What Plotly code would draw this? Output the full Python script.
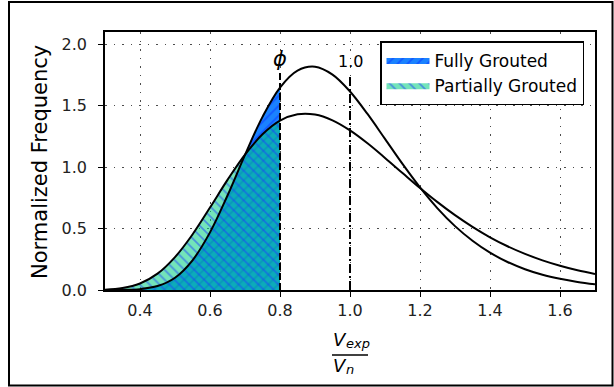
import plotly.graph_objects as go

# Data
x_vals = [0.30, 0.35, 0.40, 0.45, 0.50, 0.55, 0.60, 0.65, 0.70, 0.75, 0.80, 0.85, 0.90, 0.95,
          1.00, 1.05, 1.10, 1.15, 1.20, 1.25, 1.30, 1.35, 1.40, 1.45, 1.50, 1.55, 1.60, 1.65, 1.70]
fully_grouted = [0.000, 0.001, 0.007, 0.032, 0.100, 0.242, 0.469, 0.769, 1.100, 1.409, 1.648, 1.786,
                 1.817, 1.753, 1.616, 1.433, 1.230, 1.026, 0.835, 0.665, 0.520, 0.401, 0.304, 0.228,
                 0.169, 0.124, 0.091, 0.066, 0.047]
partially_grouted = [0.003, 0.016, 0.053, 0.133, 0.268, 0.452, 0.671, 0.896, 1.102, 1.267, 1.378, 1.430,
                     1.428, 1.381, 1.299, 1.194, 1.075, 0.952, 0.830, 0.715, 0.609, 0.514, 0.429, 0.356,
                     0.294, 0.241, 0.197, 0.160, 0.130]
phi = 0.8
unity = 1.0
phi_line_top = 1.77
unity_line_top = 1.74
x_ticks = [0.4, 0.6, 0.8, 1.0, 1.2, 1.4, 1.6]
x_tick_labels = ["0.4", "0.6", "0.8", "1.0", "1.2", "1.4", "1.6"]
y_ticks = [0.0, 0.5, 1.0, 1.5, 2.0]
y_tick_labels = ["0.0", "0.5", "1.0", "1.5", "2.0"]

FONT = "DejaVu Sans"
W, H = 614, 387
ML, MR, MT, MB = 105, 19, 32, 97
PW, PH = W - ML - MR, H - MT - MB

def px_x(p):
    return (p - ML) / PW

def px_y(p):
    return (H - MB - p) / PH

fx = [x for x in x_vals if x <= phi + 1e-9]
ff = fully_grouted[:len(fx)]
fp = partially_grouted[:len(fx)]

fig = go.Figure()

fig.add_trace(go.Scatter(
    x=fx, y=ff, mode="lines", line=dict(width=0, shape="spline", color="#1a3cff"),
    fill="tozeroy", fillcolor="#1a82ff",
    fillpattern=dict(shape="/", fgcolor="#0a2cff", bgcolor="#1a82ff", size=7, solidity=0.25),
    name="Fully Grouted", showlegend=True, hoverinfo="skip"))
fig.add_trace(go.Scatter(
    x=fx, y=fp, mode="lines", line=dict(width=0, shape="spline", color="#1a3cff"),
    fill="tozeroy", fillcolor="rgba(0,206,128,0.55)",
    fillpattern=dict(shape="\\", fgcolor="#1a3cff", bgcolor="rgba(0,206,128,0.55)", size=7, solidity=0.25),
    name="Partially Grouted", showlegend=True, hoverinfo="skip"))

fig.add_trace(go.Scatter(x=x_vals, y=fully_grouted, mode="lines",
                         line=dict(color="black", width=2, shape="spline"), showlegend=False))
fig.add_trace(go.Scatter(x=x_vals, y=partially_grouted, mode="lines",
                         line=dict(color="black", width=2, shape="spline"), showlegend=False))

fig.add_trace(go.Scatter(x=[phi, phi], y=[0, phi_line_top], mode="lines",
                         line=dict(color="black", width=2, dash="7px,3px"), showlegend=False))
fig.add_trace(go.Scatter(x=[unity, unity], y=[0, unity_line_top], mode="lines",
                         line=dict(color="black", width=2, dash="9px,3px,2px,3px"), showlegend=False))

def t(x, y, text, size, xanchor="center", **kw):
    d = dict(x=px_x(x), y=px_y(y), xref="paper", yref="paper", text=text, showarrow=False,
             xanchor=xanchor, yanchor="middle",
             font=dict(family=FONT, size=size, color="black"))
    d.update(kw)
    return d

ann = [
    dict(x=phi, y=1.88, xref="x", yref="y", text="<i>ϕ</i>", showarrow=False,
         xanchor="center", yanchor="middle", font=dict(family=FONT, size=21, color="black")),
    dict(x=unity, y=1.86, xref="x", yref="y", text="1.0", showarrow=False,
         xanchor="center", yanchor="middle", font=dict(family=FONT, size=16, color="black")),
    t(340, 339, "<i>V</i>", 18),
    t(344, 343, "<i>exp</i>", 13, xanchor="left"),
    t(340, 365, "<i>V</i>", 18),
    t(344, 369, "<i>n</i>", 13, xanchor="left"),
    t(40, 162, "Normalized Frequency", 21, textangle=-90),
]

shapes = [
    dict(type="line", xref="paper", yref="paper", x0=px_x(332), x1=px_x(368),
         y0=px_y(355), y1=px_y(355), line=dict(color="black", width=1.5)),
    dict(type="rect", xref="paper", yref="paper", x0=px_x(9), x1=px_x(612.5),
         y0=px_y(385.5), y1=px_y(2), line=dict(color="black", width=2), layer="above"),
]

fig.update_layout(
    width=W, height=H,
    margin=dict(l=ML, r=MR, t=MT, b=MB),
    paper_bgcolor="white", plot_bgcolor="white",
    font=dict(family=FONT, size=13, color="black"),
    showlegend=True,
    legend=dict(x=px_x(380), y=px_y(41), xanchor="left", yanchor="top",
                bgcolor="white", bordercolor="black", borderwidth=1.5,
                font=dict(family=FONT, size=17, color="black"),
                itemwidth=43, tracegroupgap=0),
    annotations=ann, shapes=shapes,
)

fig.update_xaxes(range=[0.3, 1.7], tickvals=x_ticks, ticktext=x_tick_labels,
                 showline=True, linecolor="black", linewidth=1.5, mirror=True,
                 ticks="outside", ticklen=5, tickcolor="black",
                 showgrid=True, gridcolor="rgba(0,0,0,0.7)", gridwidth=1, griddash="1.5px,7px",
                 zeroline=False, tickfont=dict(family=FONT, size=16, color="#222"))
fig.update_yaxes(range=[0, 2.1], tickvals=y_ticks, ticktext=y_tick_labels,
                 showline=True, linecolor="black", linewidth=1.5, mirror=True,
                 ticks="outside", ticklen=5, tickcolor="black", ticklabelstandoff=8,
                 showgrid=True, gridcolor="rgba(0,0,0,0.7)", gridwidth=1, griddash="1.5px,7px",
                 zeroline=False, tickfont=dict(family=FONT, size=16, color="#222"))

fig.write_html("out.html", config={"displayModeBar": False},
               post_script="document.body.style.margin='0';document.body.style.overflow='hidden';")
